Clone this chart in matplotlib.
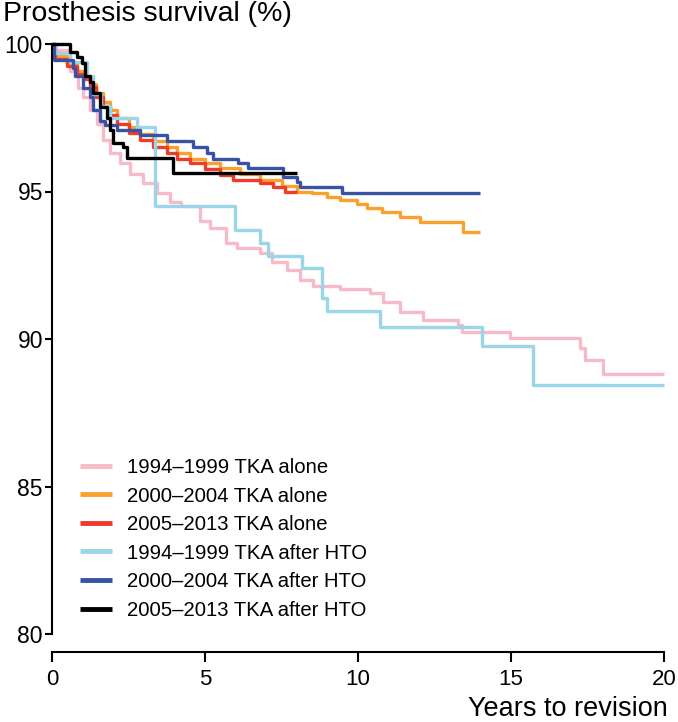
import numpy as np
import matplotlib.pyplot as plt

plt.rcParams['font.family'] = ['Liberation Sans', 'DejaVu Sans']

# survival curves (years, % survival), step functions
pink_t = [0, 0.1, 0.6, 0.85, 1.0, 1.25, 1.47, 1.67, 1.9, 2.22, 2.55, 2.97, 3.43, 3.85, 4.2,
          4.84, 5.16, 5.7, 6.05, 6.8, 7.2, 7.67, 8.1, 8.53, 9.4, 10.39, 10.82, 11.37, 12.12,
          13.27, 13.4, 14.97, 17.25, 17.42, 18.0, 20.0]
pink_s = [100, 99.8, 99.1, 98.5, 98.2, 97.76, 97.3, 96.75, 96.3, 95.96, 95.6, 95.3, 94.95, 94.65, 94.5,
          94.0, 93.76, 93.25, 93.08, 92.9, 92.6, 92.34, 92.0, 91.8, 91.7, 91.55, 91.27, 90.9, 90.64,
          90.47, 90.25, 90.03, 89.7, 89.3, 88.8, 88.8]

orange_t = [0, 0.1, 0.5, 0.82, 1.05, 1.24, 1.45, 1.67, 1.9, 2.12, 2.5, 2.88, 3.3, 3.76, 4.1, 4.51,
            5.0, 5.49, 6.14, 6.8, 7.5, 8.0, 8.5, 8.99, 9.4, 9.97, 10.3, 10.8, 11.37, 12.03, 13.43, 14.0]
orange_s = [100, 99.6, 99.35, 99.1, 98.9, 98.65, 98.35, 98.05, 97.75, 97.5, 97.2, 96.95, 96.7, 96.5, 96.3, 96.1,
            95.95, 95.8, 95.6, 95.4, 95.2, 95.0, 94.95, 94.83, 94.7, 94.58, 94.45, 94.3, 94.12, 93.98, 93.64, 93.64]

red_t = [0, 0.1, 0.5, 0.82, 1.05, 1.24, 1.45, 1.67, 1.9, 2.12, 2.5, 2.88, 3.3, 3.76, 4.1, 4.51,
         5.0, 5.49, 5.9, 6.8, 7.22, 7.6, 8.0]
red_s = [100, 99.5, 99.25, 99.0, 98.8, 98.55, 98.2, 97.9, 97.6, 97.3, 97.0, 96.75, 96.5, 96.3, 96.1, 95.96,
         95.75, 95.56, 95.39, 95.29, 95.16, 95.0, 95.0]

lblue_t = [0, 0.1, 0.6, 1.14, 1.35, 1.6, 1.9, 2.78, 3.37, 5.98, 6.8, 7.06, 8.17, 8.82, 8.99, 10.72, 14.05, 15.72, 20.0]
lblue_s = [100, 99.7, 99.4, 98.9, 98.3, 97.9, 97.5, 97.2, 94.5, 93.7, 93.25, 92.8, 92.4, 91.4, 90.95, 90.42, 89.77, 88.45, 88.45]

dblue_t = [0, 0.05, 0.67, 0.75, 1.0, 1.25, 1.35, 1.57, 1.73, 2.12, 2.87, 3.76, 4.6, 5.06, 5.26,
           6.08, 6.4, 7.55, 8.0, 8.1, 9.48, 14.0]
dblue_s = [100, 99.45, 99.2, 98.9, 98.5, 98.2, 97.76, 97.4, 97.25, 97.1, 96.9, 96.7, 96.5, 96.3, 96.1,
           95.96, 95.8, 95.5, 95.33, 95.16, 94.94, 94.94]

black_t = [0, 0.6, 0.82, 0.98, 1.08, 1.24, 1.34, 1.57, 1.8, 1.9, 2.0, 2.33, 2.45, 3.95, 8.0]
black_s = [100, 99.73, 99.56, 99.35, 98.9, 98.7, 98.35, 97.87, 97.5, 97.1, 96.64, 96.5, 96.13, 95.63, 95.63]

labels = ['1994\u20131999 TKA alone', '2000\u20132004 TKA alone', '2005\u20132013 TKA alone',
          '1994\u20131999 TKA after HTO', '2000\u20132004 TKA after HTO', '2005\u20132013 TKA after HTO']
colors = ['#F7BAC8', '#F9A12B', '#EE3B2B', '#9AD5E8', '#3953A4', '#000000']
series = [(pink_t, pink_s), (orange_t, orange_s), (red_t, red_s),
          (lblue_t, lblue_s), (dblue_t, dblue_s), (black_t, black_s)]

fig = plt.figure(figsize=(6.78, 7.22), dpi=100)
ax = fig.add_axes([52 / 678, 88 / 722, 612 / 678, 590 / 722])

for (t, s), c, lab in zip(series, colors, labels):
    ax.plot(t, s, drawstyle='steps-post', color=c, lw=2.4, label=lab, clip_on=False,
            solid_capstyle='butt')

ax.set_xlim(0, 20)
ax.set_ylim(80, 100)
ax.set_xticks([0, 5, 10, 15, 20])
ax.set_yticks([80, 85, 90, 95, 100])

for side in ['top', 'right']:
    ax.spines[side].set_visible(False)
ax.spines['bottom'].set_position(('outward', 13))
ax.spines['bottom'].set_bounds(0, 20)
ax.spines['left'].set_bounds(80, 100)
for side in ['bottom', 'left']:
    ax.spines[side].set_linewidth(1.5)

ax.tick_params(axis='x', length=7, width=1.5, pad=5, labelsize=16)
ax.tick_params(axis='y', length=5, width=1.5, pad=1.5, labelsize=16.5)

fig.text(0.004, 1 - 14 / 722, 'Prosthesis survival (%)', fontsize=20.5, ha='left', va='center')
fig.text(668 / 678, 1 - 716 / 722, 'Years to revision', fontsize=19.5, ha='right', va='baseline')

leg = ax.legend(loc='upper left', bbox_to_anchor=(80 / 678, 1 - 458 / 722),
                bbox_transform=fig.transFigure, frameon=False, fontsize=14.6,
                handlelength=1.6, handletextpad=0.7, labelspacing=0.47, borderpad=0,
                borderaxespad=0)
for h in leg.get_lines():
    h.set_linewidth(3.5)

fig.savefig('out.png', dpi=100)
